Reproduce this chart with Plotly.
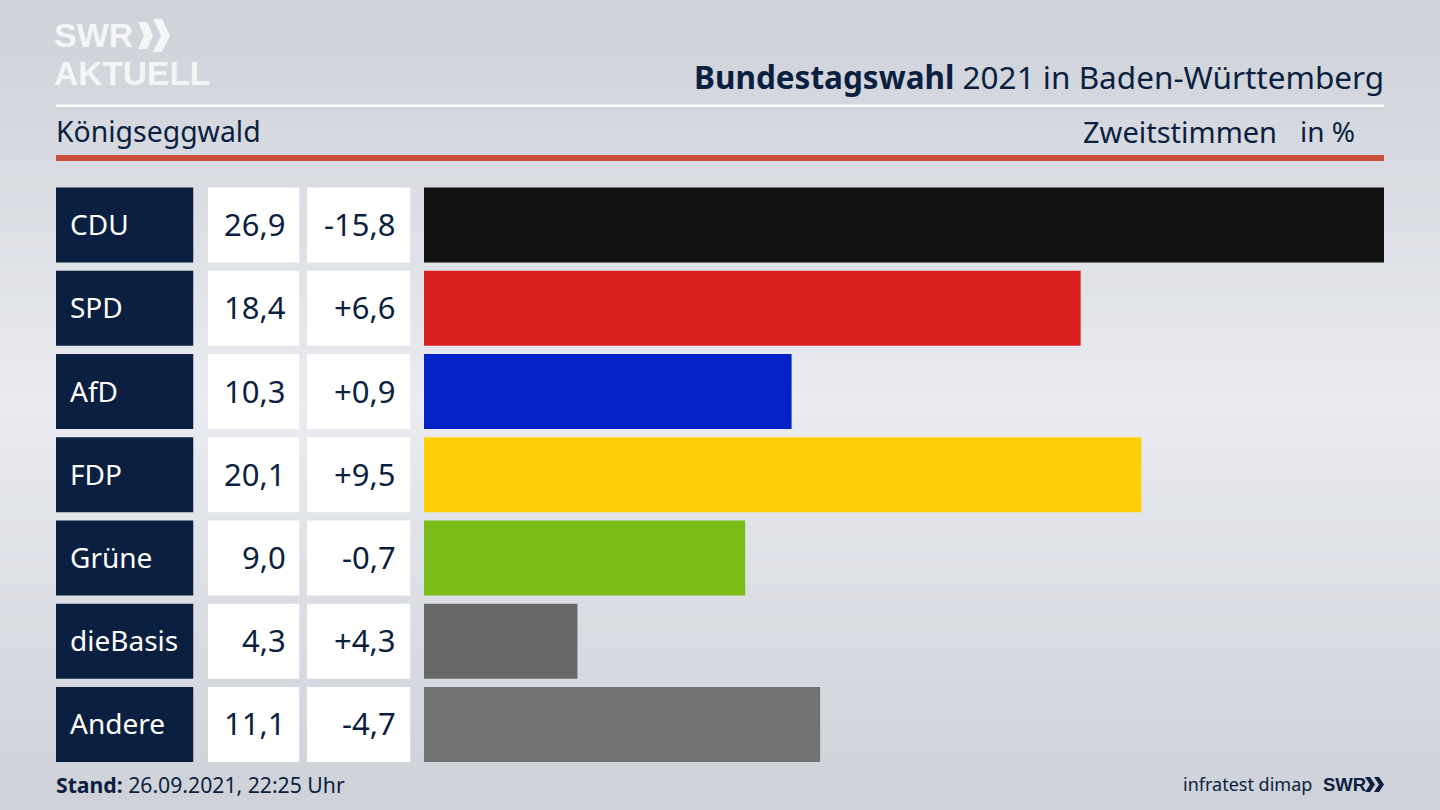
import plotly.graph_objects as go

parties = ["CDU", "SPD", "AfD", "FDP", "Grüne", "dieBasis", "Andere"]
shares = [26.9, 18.4, 10.3, 20.1, 9.0, 4.3, 11.1]
share_labels = ["26,9", "18,4", "10,3", "20,1", "9,0", "4,3", "11,1"]
change_labels = ["-15,8", "+6,6", "+0,9", "+9,5", "-0,7", "+4,3", "-4,7"]
bar_colors = ["#121212", "#da211f", "#0322c8", "#ffcd0a", "#7abd19", "#686868", "#717274"]

W, H = 1440, 810
NAVY = "#0b1f40"
FONT = "Noto Sans"
LOGO = "Liberation Sans"
TOP, BOTTOM = 183.4, 766.1


def px(x):
    return x / W


def py(y):
    return 1 - y / H


def lerp(a, b, t):
    return tuple(round(a[i] + (b[i] - a[i]) * t) for i in range(3))


fig = go.Figure()

fig.add_bar(x=shares, y=parties, orientation="h", marker=dict(color=bar_colors, line_width=0),
            xaxis="x", yaxis="y", hoverinfo="skip", showlegend=False)
for axis, color in (("x2", NAVY), ("x3", "#ffffff"), ("x4", "#ffffff")):
    fig.add_bar(x=[1] * len(parties), y=parties, orientation="h",
                marker=dict(color=color, line_width=0),
                xaxis=axis, yaxis="y", hoverinfo="skip", showlegend=False)

shapes = []
# background: soft vertical gradient
edge, mid = (207, 210, 217), (234, 236, 241)
strip = 10
for y in range(0, H, strip):
    t = 1 - abs(y + strip / 2 - 405) / 405
    r, g, b = lerp(edge, mid, t ** 1.2)
    shapes.append(dict(type="rect", xref="paper", yref="paper", layer="below",
                       x0=0, x1=1, y0=py(y), y1=py(y + strip + 1),
                       fillcolor=f"rgb({r},{g},{b})", line_width=0))

# header rules
shapes.append(dict(type="rect", xref="paper", yref="paper", x0=px(56), x1=px(1384),
                   y0=py(107), y1=py(104.5), fillcolor="#ffffff", line_width=0))
shapes.append(dict(type="rect", xref="paper", yref="paper", x0=px(56), x1=px(1384),
                   y0=py(161), y1=py(155), fillcolor="#c9503f", line_width=0))


def chevron(x, top, bottom, width, thick, color):
    midy = (top + bottom) / 2
    pts = [(x, top), (x + thick, top), (x + thick + width, midy), (x + thick, bottom),
           (x, bottom), (x + width, midy)]
    path = "M " + " L ".join(f"{px(a):.5f},{py(b):.5f}" for a, b in pts) + " Z"
    return dict(type="path", xref="paper", yref="paper", path=path, fillcolor=color, line_width=0)


# logo chevrons
shapes.append(chevron(138, 22, 49, 6, 9, "#f4f5f7"))
shapes.append(chevron(153, 19, 52, 8, 9, "#f4f5f7"))
shapes.append(chevron(1365, 777, 792, 5, 5, NAVY))
shapes.append(chevron(1374, 777, 792, 5, 5, NAVY))

ann = []


def text(x, y, s, size, anchor="left", color=NAVY, family=FONT):
    ann.append(dict(xref="paper", yref="paper", x=px(x), y=py(y), text=s, showarrow=False,
                    xanchor=anchor, yanchor="middle",
                    font=dict(family=family, size=size, color=color),
                    borderpad=0, borderwidth=0))


text(54, 34.5, "<b>SWR</b>", 34, color="#f4f5f7", family=LOGO)
text(54, 73, "<b>AKTUELL</b>", 33.5, color="#f4f5f7", family=LOGO)
text(1384, 76, "<b>Bundestagswahl</b> 2021 in Baden-Württemberg", 31.5, "right")
text(56, 131, "Königseggwald", 28.4)
text(1277, 131, "Zweitstimmen", 29, "right")
text(1355, 131, "in %", 28, "right")
text(56, 784, "<b>Stand:</b> 26.09.2021, 22:25 Uhr", 21.2)
text(1312, 784, "infratest dimap", 18, "right")
text(1323, 784, "<b>SWR</b>", 18.5, family=LOGO)

for party, share, change in zip(parties, share_labels, change_labels):
    for x, s, anchor, color, size in ((68, party, "left", "#ffffff", 28),
                                      (288, share, "right", NAVY, 31),
                                      (398, change, "right", NAVY, 31)):
        ann.append(dict(xref="paper", yref="y", x=px(x), y=party, text=s, showarrow=False,
                        xanchor=anchor, yanchor="middle", yshift=1,
                        font=dict(family=FONT, size=size, color=color)))

axis_off = dict(visible=False, fixedrange=True)
fig.update_layout(
    width=W, height=H, margin=dict(l=0, r=0, t=0, b=0, pad=0), autosize=False,
    paper_bgcolor="#dfe1e6", plot_bgcolor="rgba(0,0,0,0)",
    barmode="overlay", bargap=0.0986, showlegend=False,
    font=dict(family=FONT, color=NAVY),
    shapes=shapes, annotations=ann,
    xaxis=dict(domain=[px(424), px(1384)], range=[0, max(shares)], **axis_off),
    xaxis2=dict(domain=[px(56), px(193.5)], range=[0, 1], anchor="y", **axis_off),
    xaxis3=dict(domain=[px(208), px(299.5)], range=[0, 1], anchor="y", **axis_off),
    xaxis4=dict(domain=[px(307), px(410.5)], range=[0, 1], anchor="y", **axis_off),
    yaxis=dict(domain=[py(BOTTOM), py(TOP)], categoryorder="array", categoryarray=parties,
               autorange="reversed", **axis_off),
)
fig.write_html("out.html", config=dict(displayModeBar=False),
               post_script="document.body.style.margin='0';document.body.style.overflow='hidden';")
